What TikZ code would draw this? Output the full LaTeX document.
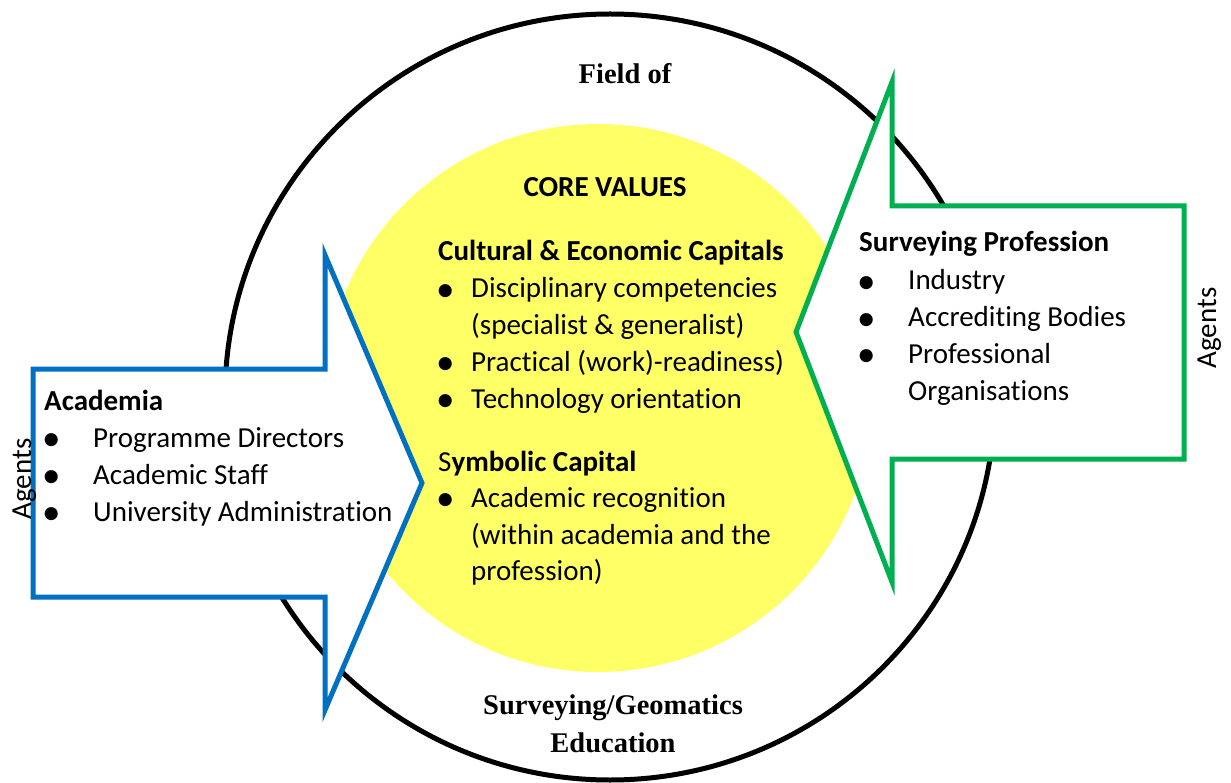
\documentclass[tikz,border=0pt]{standalone}
\usepackage{fontspec}
\setmainfont{Carlito}[Ligatures={NoCommon,NoContextual}]
\newfontfamily\tnrfont{Liberation Serif}
\definecolor{myblue}{RGB}{0,112,192}
\definecolor{mygreen}{RGB}{0,176,80}
\definecolor{myyellow}{RGB}{255,255,102}
\newcommand{\bitm}[2]{\makebox[#1][l]{\kern-2pt\raisebox{-3.5pt}{\fontsize{37}{37}\selectfont •}}#2}
\begin{document}
\begin{tikzpicture}[x=1pt,y=-1pt,
  txt/.style={inner sep=0pt, anchor=base west, font=\fontsize{29}{35}\selectfont},
  btxt/.style={txt, font=\fontsize{29}{35}\selectfont\bfseries},
  ctxt/.style={btxt, anchor=base},
  serif/.style={inner sep=0pt, anchor=base, font=\fontsize{28.5}{34}\selectfont\tnrfont\bfseries},
  arrowbox/.style={line width=5pt, fill=white, line join=miter},
  agents/.style={inner sep=0pt, anchor=base, rotate=90, font=\fontsize{29}{35}\selectfont}
]
\useasboundingbox (0,0) rectangle (1231,783);
\fill[white] (0,0) rectangle (1231,783);
% field circle
\draw[line width=5pt] (610,397) ellipse [x radius=385, y radius=383];
% core circle
\fill[myyellow] (598,398) circle [radius=274];
% arrows
\draw[arrowbox, draw=myblue] (33,369) -- (325,369) -- (325,255) -- (422,483) -- (325,710) -- (325,597) -- (33,597) -- cycle;
\draw[arrowbox, draw=mygreen] (1184,206) -- (892,206) -- (892,82) -- (796,332) -- (892,582) -- (892,459) -- (1184,459) -- cycle;
% field labels
\node[serif] (field) at (625,84) {Field of};
\node[serif] (surv) at (613,714) {Surveying/Geomatics};
\node[serif] (educ) at (613,752) {Education};
% core values
\node[ctxt] (core) at (605,197) {CORE VALUES};
\node[btxt] (cec) at (438,261) {Cultural \& Economic Capitals};
\node[txt] (c1) at (438,298) {\bitm{33pt}{Disciplinary competencies}};
\node[txt] (c1b) at (471,335) {(specialist \& generalist)};
\node[txt] (c2) at (438,371) {\bitm{33pt}{Practical (work)-readiness)}};
\node[txt] (c3) at (438,408) {\bitm{33pt}{Technology orientation}};
\node[txt] (sym) at (438,471) {S\textbf{ymbolic Capital}};
\node[txt] (s1) at (438,507) {\bitm{33pt}{Academic recognition}};
\node[txt] (s1b) at (471,544) {(within academia and the};
\node[txt] (s1c) at (471,580) {profession)};
% academia
\node[btxt] (acad) at (44,410) {Academia};
\node[txt] (a1) at (44,447) {\bitm{49pt}{Programme Directors}};
\node[txt] (a2) at (44,484) {\bitm{49pt}{Academic Staff}};
\node[txt] (a3) at (44,521) {\bitm{49pt}{University Administration}};
% profession
\node[btxt] (prof) at (859,252) {Surveying Profession};
\node[txt] (p1) at (859,290) {\bitm{49pt}{Industry}};
\node[txt] (p2) at (859,327) {\bitm{49pt}{Accrediting Bodies}};
\node[txt] (p3) at (859,363) {\bitm{49pt}{Professional}};
\node[txt] (p3b) at (908,400) {Organisations};
% agents
\node[agents] (ag1) at (31,479) {Agents};
\node[agents] (ag2) at (1216,328) {Agents};
\end{tikzpicture}
\end{document}
